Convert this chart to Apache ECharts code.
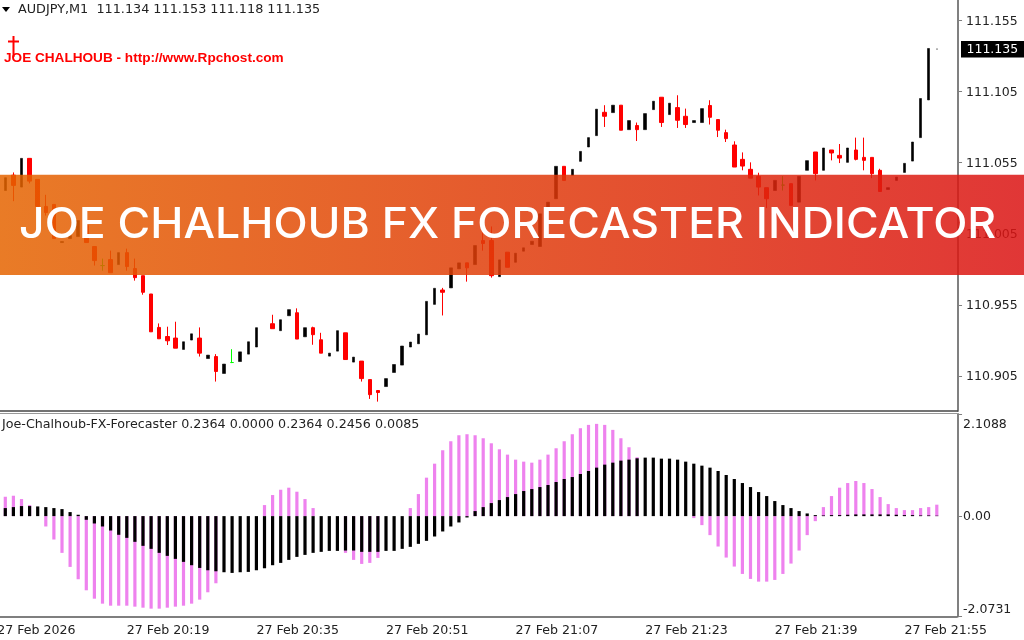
<!DOCTYPE html>
<html><head><meta charset="utf-8">
<script src="https://cdn.jsdelivr.net/npm/echarts@6/dist/echarts.min.js"></script>
<style>html,body{margin:0;padding:0;background:#fff}#c{width:1024px;height:640px}</style></head>
<body><div id="c"></div>
<script>
const opens=[111.0354,111.0462,111.0378,111.0580,111.0432,111.0242,111.0256,110.9988,111.0016,111.0030,
111.0108,110.9960,110.9826,110.9868,110.9833,110.9917,110.9805,110.9755,110.9626,110.9391,
110.9327,110.9316,110.9236,110.9302,110.9316,110.9172,110.9186,110.9067,110.9144,110.9151,
110.9203,110.9253,null,110.9417,110.9368,110.9473,110.9494,110.9325,110.9389,110.9304,
110.9189,110.9224,110.9353,110.9147,110.9154,110.9024,110.8947,110.8975,110.9074,110.9126,
110.9253,110.9276,110.9339,110.9553,110.9654,110.9669,110.9803,110.9845,110.9833,111.0002,
111.0002,110.9748,110.9920,110.9849,110.9927,110.9974,110.9960,111.0226,111.0296,111.0524,
111.0460,111.0559,111.0660,111.0740,111.0904,111.0902,111.0954,111.0782,111.0811,111.0782,
111.0923,111.1010,111.0888,111.0937,111.0876,111.0832,111.0832,111.0952,111.0853,111.0761,
111.0674,111.0573,111.0503,111.0453,111.0374,111.0354,111.0392,111.0402,111.0272,111.0496,
111.0625,111.0496,111.0639,111.0601,111.0552,111.0639,111.0587,111.0587,111.0496,111.0361,
111.0425,111.0481,111.0561,111.0726,111.0991,111.1348];
const closes=[111.0444,111.0390,111.0580,111.0420,111.0242,111.0199,111.0016,110.9995,111.0037,111.0143,
110.9988,110.9861,110.9826,110.9776,110.9917,110.9819,110.9741,110.9638,110.9360,110.9311,
110.9297,110.9245,110.9290,110.9346,110.9210,110.9196,110.9081,110.9133,110.9144,110.9219,
110.9290,110.9389,null,110.9382,110.9445,110.9516,110.9309,110.9389,110.9340,110.9210,
110.9210,110.9368,110.9165,110.9182,110.9031,110.8918,110.8933,110.9031,110.9130,110.9260,
110.9288,110.9344,110.9574,110.9666,110.9638,110.9810,110.9845,110.9810,110.9967,110.9981,
110.9755,110.9866,110.9814,110.9913,110.9951,110.9997,111.0190,111.0272,111.0524,111.0425,
111.0503,111.0629,111.0726,111.0926,111.0876,111.0954,111.0778,111.0846,111.0782,111.0895,
111.0982,111.0832,111.0968,111.0848,111.0818,111.0846,111.0930,111.0869,111.0778,111.0719,
111.0519,111.0526,111.0441,111.0378,111.0296,111.0425,111.0392,111.0249,111.0453,111.0564,
111.0472,111.0653,111.0618,111.0582,111.0653,111.0573,111.0566,111.0472,111.0347,111.0374,
111.0448,111.0545,111.0695,111.1001,111.1353,111.135];
const lows=[111.0354,111.0279,111.0378,111.0404,111.0242,111.0178,111.0016,110.9988,111.0016,111.0030,
110.9988,110.9826,110.9790,110.9776,110.9833,110.9790,110.9720,110.9621,110.9360,110.9311,
110.9267,110.9245,110.9236,110.9302,110.9186,110.9172,110.9010,110.9067,110.9140,110.9151,
110.9203,110.9253,null,110.9382,110.9368,110.9473,110.9309,110.9325,110.9269,110.9210,
110.9189,110.9224,110.9165,110.9147,110.9010,110.8888,110.8869,110.8975,110.9074,110.9126,
110.9253,110.9276,110.9339,110.9553,110.9475,110.9669,110.9803,110.9713,110.9833,110.9931,
110.9741,110.9748,110.9814,110.9849,110.9927,110.9974,110.9960,111.0226,111.0296,111.0425,
111.0460,111.0559,111.0660,111.0740,111.0801,111.0902,111.0778,111.0782,111.0702,111.0782,
111.0923,111.0801,111.0888,111.0794,111.0794,111.0832,111.0832,111.0818,111.0730,111.0695,
111.0519,111.0496,111.0441,111.0319,111.0230,111.0354,111.0354,111.0249,111.0272,111.0496,
111.0425,111.0496,111.0566,111.0547,111.0552,111.0566,111.0496,111.0441,111.0347,111.0361,
111.0425,111.0481,111.0561,111.0726,111.0991,111.1348];
const highs=[111.0444,111.0481,111.0580,111.0580,111.0432,111.0324,111.0256,110.9995,111.0037,111.0143,
111.0108,110.9960,110.9875,110.9931,110.9917,110.9945,110.9875,110.9755,110.9626,110.9419,
110.9396,110.9431,110.9290,110.9346,110.9391,110.9196,110.9203,110.9133,110.9238,110.9219,
110.9290,110.9389,null,110.9480,110.9445,110.9516,110.9525,110.9389,110.9396,110.9353,
110.9210,110.9368,110.9353,110.9182,110.9154,110.9024,110.8947,110.9031,110.9130,110.9260,
110.9288,110.9344,110.9574,110.9666,110.9669,110.9810,110.9845,110.9845,110.9967,111.0058,
111.0101,110.9866,110.9920,110.9913,110.9951,110.9997,111.0190,111.0272,111.0524,111.0524,
111.0503,111.0629,111.0726,111.0926,111.0954,111.0954,111.0954,111.0846,111.0832,111.0895,
111.0982,111.1010,111.0968,111.1024,111.0930,111.0846,111.0930,111.0989,111.0853,111.0782,
111.0700,111.0622,111.0552,111.0479,111.0374,111.0425,111.0455,111.0402,111.0453,111.0564,
111.0625,111.0653,111.0639,111.0681,111.0653,111.0726,111.0726,111.0587,111.0507,111.0374,
111.0448,111.0545,111.0695,111.1001,111.1353,111.135];
const pinkValues=[.400,.421,.352,.228,null,-.214,-.483,-.759,-1.049,-1.304,
-1.532,-1.705,-1.808,-1.850,-1.850,-1.850,-1.870,-1.891,-1.911,-1.911,
-1.891,-1.870,-1.850,-1.808,-1.725,-1.573,-1.387,null,null,null,
null,null,.228,.435,.545,.587,.504,.352,.166,null,
null,null,-.759,-.904,-.987,-.966,-.863,null,null,null,
.166,.455,.794,1.083,1.360,1.546,1.670,1.691,1.670,1.608,
1.504,1.380,1.270,1.166,1.125,1.104,1.166,1.270,1.401,1.546,
1.691,1.815,1.884,1.905,1.884,1.781,1.608,1.422,1.215,null,
null,null,null,null,null,-.041,-.186,-.393,-.628,-.856,
-1.042,-1.194,-1.297,-1.353,-1.353,-1.318,-1.194,-.980,-.711,-.393,
-.104,.186,.414,.587,.683,.725,.683,.559,.393,.248,
.166,.124,.124,.166,.186,.2364];
const blackValues=[.166,.186,.207,.207,.200,.186,.166,.145,.083,.028,
-.076,-.152,-.214,-.297,-.386,-.449,-.531,-.614,-.676,-.759,
-.821,-.883,-.945,-1.014,-1.070,-1.118,-1.139,-1.159,-1.173,-1.159,
-1.152,-1.118,-1.077,-1.014,-.966,-.904,-.842,-.801,-.759,-.738,
-.718,-.718,-.711,-.711,-.738,-.738,-.738,-.718,-.718,-.676,
-.635,-.573,-.511,-.421,-.317,-.214,-.131,-.028,.104,.186,
.269,.331,.393,.455,.518,.559,.600,.642,.704,.766,
.807,.870,.932,1.001,1.063,1.104,1.146,1.166,1.194,1.208,
1.208,1.187,1.187,1.166,1.125,1.083,1.042,1.001,.932,.849,
.766,.683,.600,.497,.414,.311,.228,.166,.104,.055,
.021,.014,.021,.021,.028,.035,.035,.035,.035,.035,
.028,.021,.021,.014,.014,.0085];
const priceTicks=[110.905,110.955,111.005,111.055,111.105,111.155];
const indicatorTicks=[-2.0731,0,2.1088];
const timeTicks=["27 Feb 2026","27 Feb 20:19","27 Feb 20:35","27 Feb 20:51","27 Feb 21:07","27 Feb 21:23","27 Feb 21:39","27 Feb 21:55"];
const TICK_EVERY=16, SLOTS=119;

const categories=[];
for(let i=0;i<SLOTS;i++) categories.push(i%TICK_EVERY===0?timeTicks[i/TICK_EVERY]:'');
const candle=(i)=>[opens[i],closes[i],lows[i],highs[i]];
const lastBar=opens.length-1;
function build(test){
  const out=['-'];
  opens.forEach((o,i)=>out.push(o!==null&&test(o,closes[i],i)?candle(i):'-'));
  out.push('-','-');
  return out;
}
const pad=a=>[null].concat(a,[null,null]);
const FONT='"DejaVu Sans"';
const chart=echarts.init(document.getElementById('c'));
const xBase={type:'category',data:categories};
const rich={a:{padding:[2,0,0,0],color:'#222',fontFamily:FONT,fontSize:12.5}, b:{padding:[4,0,0,0],color:'#222',fontFamily:FONT,fontSize:12.5}};
const solid=(c,w)=>({color:c,color0:c,borderColor:c,borderColor0:c,borderColorDoji:c,borderWidth:w});
chart.setOption({
  animation:false,
  backgroundColor:'#fff',
  grid:[{outerBoundsMode:'none',left:-6.85,top:0,width:963.9,height:411},{outerBoundsMode:'none',left:-6.85,top:414,width:963.9,height:202.5}],
  xAxis:[
    Object.assign({gridIndex:0,show:false},xBase),
    Object.assign({gridIndex:1},xBase,{
      axisLine:{onZero:false,lineStyle:{color:'#555',width:1.5}},
      axisTick:{alignWithLabel:true,length:4,interval:i=>i%TICK_EVERY===0,lineStyle:{color:'#555'}},
      axisLabel:{interval:i=>i%TICK_EVERY===0,align:'left',margin:8,color:'#222',fontFamily:FONT,fontSize:12.6,hideOverlap:false}
    })
  ],
  yAxis:[
    {gridIndex:0,type:'value',position:'right',offset:1,min:110.8803,max:111.1694,scale:true,
     axisLine:{show:true,lineStyle:{color:'#808080',width:2}},
     axisTick:{show:true,length:4,customValues:priceTicks,lineStyle:{color:'#808080'}},
     splitLine:{show:false},
     axisLabel:{customValues:priceTicks,margin:8,rich,formatter:v=>'{a|'+v.toFixed(3)+'}'}},
    {gridIndex:1,type:'value',position:'right',offset:1,min:-2.0731,max:2.1088,
     axisLine:{show:true,lineStyle:{color:'#808080',width:2}},
     axisTick:{show:true,length:4,customValues:indicatorTicks,lineStyle:{color:'#808080'}},
     splitLine:{show:false},
     axisLabel:{customValues:indicatorTicks,margin:5,rich,
       verticalAlignMaxLabel:'top',verticalAlignMinLabel:'bottom',
       formatter:v=>v===0?'{a|0.00}':v>0?'{b|'+v.toFixed(4)+'}':'{a|'+v.toFixed(4)+'}'}}
  ],
  series:[
    {type:'candlestick',name:'Bear',xAxisIndex:0,yAxisIndex:0,barWidth:4,data:build((o,c)=>c<o),itemStyle:solid('#ff0000',1)},
    {type:'candlestick',name:'Bull',xAxisIndex:0,yAxisIndex:0,barWidth:3,data:build((o,c,i)=>c>o&&i!==lastBar),itemStyle:solid('#000',0.6)},
    {type:'candlestick',name:'Doji',xAxisIndex:0,yAxisIndex:0,barWidth:4,data:build((o,c)=>c===o),itemStyle:solid('#00ff00',1)},
    {type:'candlestick',name:'Current',xAxisIndex:0,yAxisIndex:0,barWidth:2,data:build((o,c,i)=>i===lastBar),itemStyle:solid('#808080',1)},
    {type:'bar',name:'Forecast',xAxisIndex:1,yAxisIndex:1,barWidth:3.2,barGap:'-100%',data:pad(pinkValues),itemStyle:{color:'#EE82EE'}},
    {type:'bar',name:'Signal',xAxisIndex:1,yAxisIndex:1,barWidth:3.2,barGap:'-100%',data:pad(blackValues),itemStyle:{color:'#000'}}
  ],
  graphic:[
    {type:'polygon',z:50,shape:{points:[[2,7],[10,7],[6,12]]},style:{fill:'#000'}},
    {type:'text',z:50,x:18,y:10,style:{text:'AUDJPY,M1  111.134 111.153 111.118 111.135',fill:'#222',font:'12.8px '+FONT,textVerticalAlign:'middle'}},
    {type:'line',z:50,shape:{x1:13.5,y1:36,x2:13.5,y2:57},style:{stroke:'#f00',lineWidth:2}},
    {type:'line',z:50,shape:{x1:8,y1:41.5,x2:19,y2:41.5},style:{stroke:'#f00',lineWidth:2}},
    {type:'text',z:50,x:4,y:58,style:{text:'JOE CHALHOUB - http://www.Rpchost.com',fill:'#f00',font:'bold 13.6px "Liberation Sans"',textVerticalAlign:'middle'}},
    {type:'rect',z:50,shape:{x:961,y:41,width:63,height:16.5},style:{fill:'#000'}},
    {type:'text',z:51,x:966.5,y:49.5,style:{text:'111.135',fill:'#fff',font:'12.5px '+FONT,textVerticalAlign:'middle'}},
    {type:'line',z:50,shape:{x1:0,y1:411,x2:958,y2:411},style:{stroke:'#444',lineWidth:1.5}},
    {type:'line',z:50,shape:{x1:0,y1:413.5,x2:958,y2:413.5},style:{stroke:'#999',lineWidth:1}},
    {type:'text',z:50,x:2,y:425,style:{text:'Joe-Chalhoub-FX-Forecaster 0.2364 0.0000 0.2364 0.2456 0.0085',fill:'#222',font:'12.7px '+FONT,textVerticalAlign:'middle'}},
    {type:'rect',z:100,shape:{x:0,y:174.7,width:1024,height:100.4},
     style:{opacity:.85,fill:new echarts.graphic.LinearGradient(0,0,1,0,[{offset:0,color:'rgb(229,100,0)'},{offset:1,color:'rgb(219,19,19)'}])}},
    {type:'text',z:101,x:19,y:225,scaleX:1.061,style:{text:'JOE CHALHOUB FX FORECASTER INDICATOR',fill:'#fff',font:'500 42px Inter',textVerticalAlign:'middle'}}
  ]
});
</script></body></html>
